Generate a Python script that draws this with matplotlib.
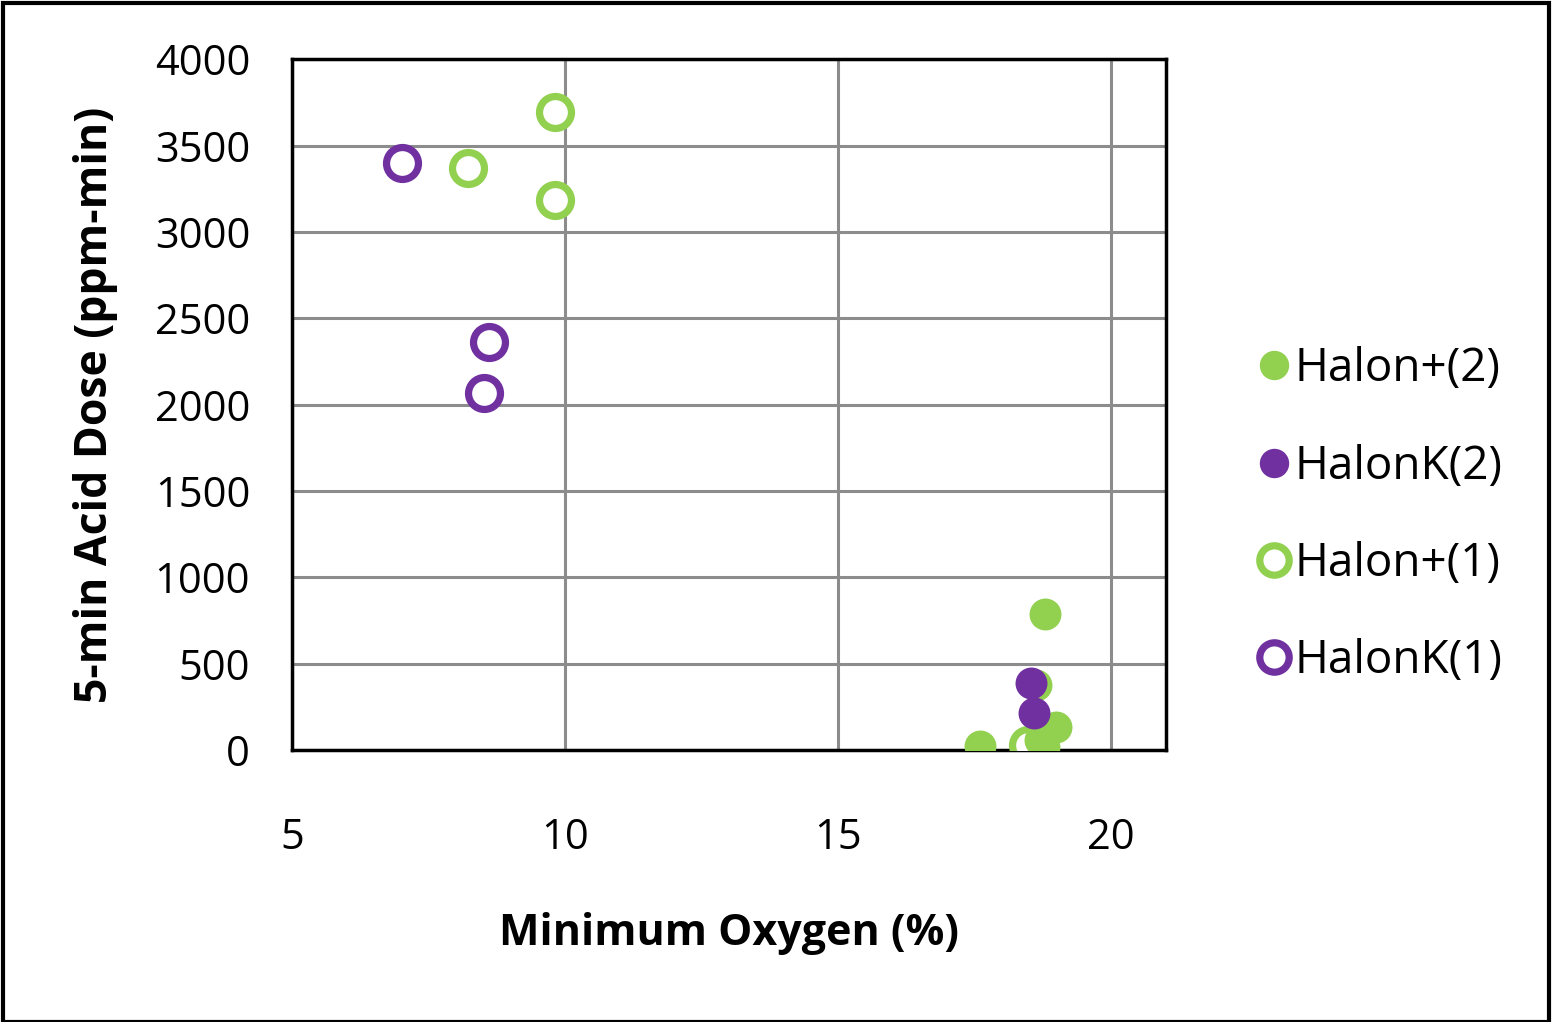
import matplotlib
matplotlib.use("Agg")
from matplotlib import pyplot as plt
from matplotlib.patches import Rectangle

# data
halon_plus_2_x = [18.79, 17.60, 18.99, 18.77, 18.62, 18.70]
halon_plus_2_y = [787, 23, 133, 17, 380, 60]
halon_k_2_x = [18.53, 18.59]
halon_k_2_y = [388, 214]
halon_plus_1_x = [9.82, 8.23, 9.82, 18.48]
halon_plus_1_y = [3693, 3369, 3184, 30]
halon_k_1_x = [7.02, 8.61, 8.52]
halon_k_1_y = [3398, 2362, 2067]

x_ticks = [5, 10, 15, 20]
y_ticks = [0, 500, 1000, 1500, 2000, 2500, 3000, 3500, 4000]

green = "#92d050"
purple = "#7030a0"

plt.rcParams['font.family'] = ['Open Sans', 'DejaVu Sans']

fig = plt.figure(figsize=(15.52, 10.22), dpi=100)
ax = fig.add_axes([0.188, 0.266, 0.563, 0.676])

ms = 23
ew = 5.2
# draw order: open ones first, filled on top
h1, = ax.plot(halon_plus_1_x, halon_plus_1_y, 'o', ms=ms, mfc='white',
              mec=green, mew=ew, ls='none', label='Halon+(1)', zorder=3)
k1, = ax.plot(halon_k_1_x, halon_k_1_y, 'o', ms=ms, mfc='white',
              mec=purple, mew=ew, ls='none', label='HalonK(1)', zorder=3)
h2, = ax.plot(halon_plus_2_x, halon_plus_2_y, 'o', ms=ms, mfc=green,
              mec=green, mew=0, ls='none', label='Halon+(2)', zorder=4)
k2, = ax.plot(halon_k_2_x, halon_k_2_y, 'o', ms=ms, mfc=purple,
              mec=purple, mew=0, ls='none', label='HalonK(2)', zorder=5)

ax.set_xlim(5, 21)
ax.set_ylim(0, 4000)
ax.set_xticks(x_ticks)
ax.set_yticks(y_ticks)
ax.grid(True, color='#8c8c8c', lw=2.2)
ax.set_axisbelow(True)
for s in ax.spines.values():
    s.set_linewidth(2.5)
    s.set_color('black')
ax.tick_params(axis='both', length=0, labelsize=30)
ax.tick_params(axis='x', pad=48)
ax.tick_params(axis='y', pad=30)

ax.set_xlabel('Minimum Oxygen (%)', fontsize=31, fontweight='bold', labelpad=38)
ax.set_ylabel('5-min Acid Dose (ppm-min)', fontsize=32, fontweight='bold', labelpad=26)

leg = ax.legend(handles=[h2, k2, h1, k1], loc='center left',
                bbox_to_anchor=(1.061, 0.34), frameon=False, fontsize=33,
                handlelength=0.6, handletextpad=0.15, labelspacing=1.12,
                markerscale=0.92)

# outer frame around the whole picture
fig.patches.append(Rectangle((0.002, 0.0), 0.996, 0.997, transform=fig.transFigure,
                             fill=False, ec='black', lw=3))

fig.savefig('out.png', dpi=100)
